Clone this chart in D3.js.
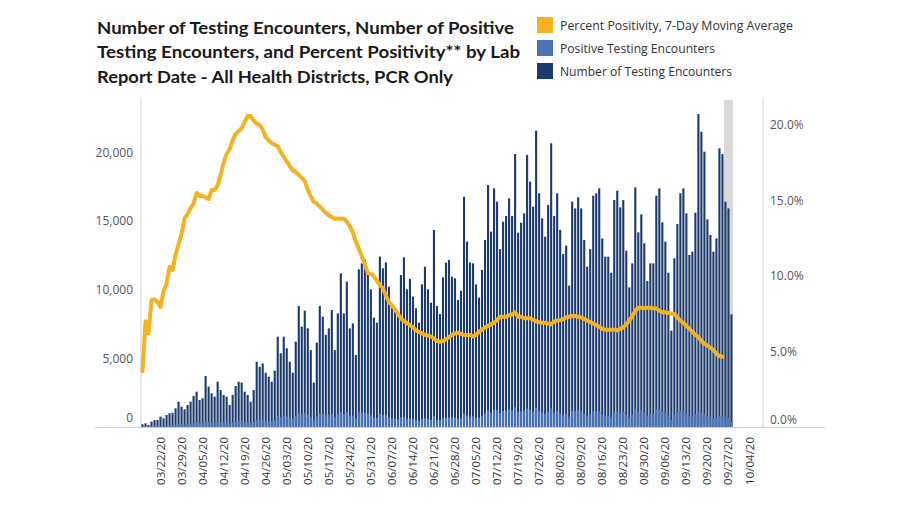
<!DOCTYPE html>
<html><head><meta charset="utf-8">
<script src="https://cdn.jsdelivr.net/npm/d3@7"></script>
<style>body{margin:0;background:#fff;} svg{display:block;}</style>
</head><body><svg id="c" width="920" height="505"></svg>
<script>
// ---------- DATA ----------
const startDate = "2020-03-16";   // first lab report date with data
const axisEndDate = "2020-10-09"; // axis runs through 10/08
const incompleteStart = "2020-09-26"; // grey shaded (incomplete) period start

const totalTests = [
 200,270,150,390,510,510,750,630,870,1000,1040,1360,1840,1480,1290,1600,1840,2260,2570,1960,2090,
 3710,2940,2450,2210,3300,2690,2330,2210,1600,2330,2980,3300,3230,2570,2330,1840,2690,4750,4390,4630,
 3950,3660,3300,4100,6570,5360,6570,5730,4750,3950,6210,8810,7300,8470,7180,5600,3230,6140,8810,8030,
 6700,7180,8520,5600,
 8270,11180,8270,10580,7180,7540,5240,11470,11910,12200,11180,10020,7960,7590,12400,11550,11980,10210,
 8880,8640,8270,11060,12350,10020,10770,9490,8640,7590,10380,11670,10020,9050,14340,8810,8220,10890,
 11960,12150,10940,10820,9240,9920,16760,13490,11980,11910,10380,9410,11430,13610,17610,14220,17370,
 16400,12950,14940,15360,16640,15360,19870,14140,14870,15550,
 19800,17860,16040,21570,17010,15190,13850,16160,20650,15360,17010,14340,12590,13200,10290,16400,15910,
 16720,15910,13610,11670,12950,16840,17010,17370,13730,12400,12400,11230,16520,17200,15990,16520,12830,
 10160,11910,17440,14170,15480,13370,10630,11910,11910,16840,17370,14900,13490,11230,7010,12280,14770,
 17010,17370,15550,12520,12760,15600,22780,21490,20040,15110,13970,12760,13730,20280,19870,16400,15910,8200
];

const positiveTests = [
 10,20,15,35,45,45,60,55,80,95,110,150,200,180,170,220,260,320,380,300,320,
 420,360,320,300,400,360,320,310,250,330,380,420,420,360,340,300,380,520,500,520,460,440,420,480,
 800,720,820,760,660,580,800,1000,920,1000,900,740,500,780,1000,960,860,900,980,740,
 960,1100,920,1060,820,820,620,1080,1060,1040,960,860,700,660,960,880,
 860,720,620,600,560,700,740,610,640,570,520,460,600,660,580,530,800,510,480,
 640,680,720,680,700,610,640,980,840,760,780,700,680,820,980,1230,1040,1250,1230,1020,1160,1180,1280,1200,1430,1100,1140,1180,
 1350,1250,1130,1400,1180,1050,950,1100,1350,1050,1180,1000,900,950,750,1180,1150,1200,1150,960,820,880,1140,1130,1120,880,800,800,720,1060,1100,1040,1100,
 880,720,880,1350,1120,1220,1050,840,940,930,1300,1320,1120,1000,830,520,900,1050,1150,1150,1000,780,770,920,1100,1000,900,800,720,640,660,800,780,740,700,360
];

const positivityMA = [
 3.7,7.0,6.2,8.4,8.45,8.3,7.95,9.0,9.5,10.6,10.4,11.4,12.1,12.8,13.8,14.1,14.5,14.8,15.5,15.3,
 15.3,15.2,15.1,15.7,15.7,16.0,16.7,17.5,18.1,18.4,19.0,19.4,19.6,19.8,20.2,20.6,20.6,20.3,20.1,20.0,
 19.7,19.2,19.0,18.8,18.7,18.6,18.2,17.9,17.6,17.3,17.0,16.9,16.7,16.5,16.3,15.7,15.3,14.9,14.8,14.6,
 14.4,14.2,14.0,13.9,13.8,13.8,13.8,13.8,13.6,13.3,12.9,12.3,11.8,11.3,10.8,10.2,10.15,10.0,9.7,9.4,
 9.2,8.7,8.3,8.05,7.8,7.5,7.2,7.0,6.9,6.75,6.6,6.4,6.3,6.2,6.1,6.05,6.0,5.85,5.7,5.65,
 5.7,5.8,5.95,6.1,6.2,6.25,6.15,6.1,6.1,6.1,6.0,6.1,6.3,6.45,6.6,6.7,6.8,6.9,7.1,7.3,
 7.3,7.3,7.4,7.45,7.6,7.3,7.3,7.2,7.2,7.2,7.1,7.0,6.95,6.9,6.9,6.85,6.8,7.0,7.05,7.08,
 7.15,7.25,7.3,7.35,7.35,7.3,7.25,7.15,7.05,6.95,6.85,6.75,6.65,6.5,6.45,6.45,6.45,6.45,6.4,6.5,
 6.6,6.8,7.05,7.35,7.7,7.9,7.9,7.87,7.9,7.9,7.87,7.85,7.7,7.6,7.6,7.55,7.5,7.5,7.25,7.05,
 6.9,6.7,6.5,6.3,6.1,5.95,5.7,5.5,5.4,5.25,5.1,4.85,4.7,4.65
];

const xTickLabels = ["03/22/20","03/29/20","04/05/20","04/12/20","04/19/20","04/26/20","05/03/20",
 "05/10/20","05/17/20","05/24/20","05/31/20","06/07/20","06/14/20","06/21/20","06/28/20","07/05/20",
 "07/12/20","07/19/20","07/26/20","08/02/20","08/09/20","08/16/20","08/23/20","08/30/20","09/06/20",
 "09/13/20","09/20/20","09/27/20","10/04/20"];
const leftTicks = [0,5000,10000,15000,20000];
const rightTicks = [0,5,10,15,20];

const titleLines = ["Number of Testing Encounters, Number of Positive",
 "Testing Encounters, and Percent Positivity** by Lab",
 "Report Date - All Health Districts, PCR Only"];
const legendLabels = ["Percent Positivity, 7-Day Moving Average","Positive Testing Encounters","Number of Testing Encounters"];

// ---------- DRAW ----------
const C = {navy:"#1c3a6c", light:"#4a72b6", orange:"#f6b120", band:"#d9d9d9", axis:"#d0d0d0", text:"#555"};
const svg = d3.select("#c");
const parse = d3.utcParse("%Y-%m-%d");
const parseLbl = d3.utcParse("%m/%d/%y");
const days = d3.utcDay.range(parse(startDate), parse(axisEndDate));
const L = 141, R = 763, T = 100, B = 427;

const x = d3.scaleBand().domain(days.map(d=>+d)).range([L,R]).paddingInner(0.3).paddingOuter(0.15);
const cx = d => x(+d) + x.bandwidth()/2;
const yL = d3.scaleLinear().domain([0,23800]).range([B,T]);
const yR = d3.scaleLinear().domain([0,21.66]).range([B,T]);

// incomplete-data band
const bStart = +parse(incompleteStart);
const gapHalf = (x.step()-x.bandwidth())/2;
svg.append("rect")
  .attr("x", x(bStart)-gapHalf)
  .attr("y", T)
  .attr("width", x(+days[totalTests.length-1]) + x.bandwidth() + gapHalf - (x(bStart)-gapHalf))
  .attr("height", B-T)
  .attr("fill", C.band);

// axis lines
svg.append("line").attr("x1",L).attr("x2",L).attr("y1",T-1).attr("y2",B).attr("stroke",C.axis);
svg.append("line").attr("x1",R).attr("x2",R).attr("y1",T-1).attr("y2",B).attr("stroke",C.axis);

// bars: totals
const dataDays = days.slice(0,totalTests.length);
svg.append("g").selectAll("rect").data(totalTests).join("rect")
  .attr("x",(v,i)=>x(+dataDays[i])).attr("width",x.bandwidth())
  .attr("y",v=>yL(v)).attr("height",v=>B-yL(v)).attr("fill",C.navy);
// bars: positives
svg.append("g").selectAll("rect").data(positiveTests).join("rect")
  .attr("x",(v,i)=>x(+dataDays[i])).attr("width",x.bandwidth())
  .attr("y",v=>yL(v)).attr("height",v=>B-yL(v)).attr("fill",C.light);

// bottom line
svg.append("line").attr("x1",95).attr("x2",825).attr("y1",B+0.5).attr("y2",B+0.5).attr("stroke",C.axis);

// line
const line = d3.line().x((v,i)=>cx(days[i])).y(v=>yR(v));
svg.append("path").datum(positivityMA).attr("d",line)
  .attr("fill","none").attr("stroke",C.orange).attr("stroke-width",4)
  .attr("stroke-linejoin","round").attr("stroke-linecap","round");

// axes
const fontAx = "'Open Sans', 'Noto Sans', sans-serif";
const gL = svg.append("g").attr("transform",`translate(${L},0)`)
  .call(d3.axisLeft(yL).tickValues(leftTicks).tickSize(0).tickPadding(8).tickFormat(d3.format(",")));
gL.select(".domain").remove();
gL.selectAll("text").attr("font-family",fontAx).attr("font-size",12).attr("fill",C.text)
  .attr("transform",d=>d===0?"translate(0,-9)":null);

const gR = svg.append("g").attr("transform",`translate(${R},0)`)
  .call(d3.axisRight(yR).tickValues(rightTicks).tickSize(0).tickPadding(7).tickFormat(d=>d.toFixed(1)+"%"));
gR.select(".domain").remove();
gR.selectAll("text").attr("font-family",fontAx).attr("font-size",12).attr("fill",C.text)
  .attr("transform",d=>d===0?"translate(0,-7)":null);

const lblMap = new Map(xTickLabels.map(s=>[+parseLbl(s), s]));
const gB = svg.append("g").attr("transform",`translate(0,${B})`)
  .call(d3.axisBottom(x).tickValues([...lblMap.keys()]).tickSize(0).tickFormat(d=>lblMap.get(d)));
gB.select(".domain").remove();
gB.selectAll("text").attr("font-family",fontAx).attr("font-size",11.5).attr("fill","#333")
  .attr("transform","rotate(-90)").attr("text-anchor","end")
  .attr("x",-10).attr("y",0).attr("dy","0.35em");

// title
const titleW = [417, 423, 356];
svg.append("g").selectAll("text").data(titleLines).join("text")
  .attr("x",97).attr("y",(d,i)=>34+i*24.3)
  .attr("font-family","Lato, 'Open Sans', sans-serif").attr("font-weight","bold")
  .attr("font-size",17.5).attr("fill","#1a1a1a")
  .attr("textLength",(d,i)=>titleW[i]).attr("lengthAdjust","spacingAndGlyphs")
  .text(d=>d);

// legend
const legColors = [C.orange, C.light, C.navy];
const legW = [233, 155, 172];
const lg = svg.append("g");
legendLabels.forEach((t,i)=>{
  const cy = 25 + i*23;
  lg.append("rect").attr("x",537).attr("y",cy-8).attr("width",16).attr("height",16).attr("fill",legColors[i]);
  lg.append("text").attr("x",560).attr("y",cy+4.5)
    .attr("font-family",fontAx).attr("font-size",12.5).attr("fill","#333")
    .attr("textLength",legW[i]).attr("lengthAdjust","spacingAndGlyphs").text(t);
});
</script>
</body></html>
